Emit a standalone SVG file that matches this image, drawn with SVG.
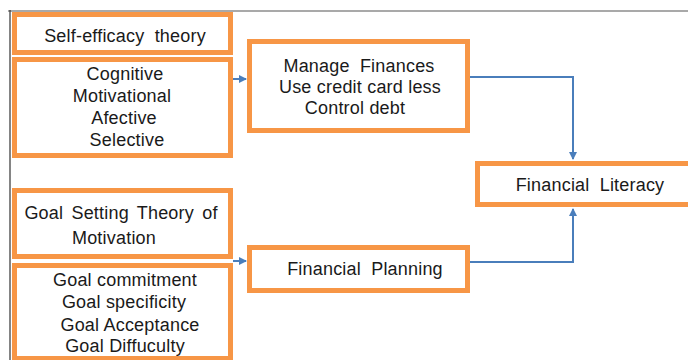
<svg xmlns="http://www.w3.org/2000/svg" width="688" height="360" viewBox="0 0 688 360">
<defs>
<style>
.box{fill:#fff;stroke:#F79646;stroke-width:5}
.t{font-family:"Liberation Sans",Arial,sans-serif;font-size:18px;fill:#1a1a1a;text-anchor:middle;letter-spacing:0.2px}
.w{word-spacing:5px}
.c{fill:none;stroke:#4A7EBB;stroke-width:2}
</style>
<marker id="ah" markerWidth="8" markerHeight="8" refX="7" refY="4" orient="auto" markerUnits="userSpaceOnUse">
<path d="M0,0 L8,4 L0,8 z" fill="#4A7EBB"/>
</marker>
</defs>
<rect width="688" height="360" fill="#fff"/>
<g id="frame">
<line x1="8" y1="11" x2="688" y2="11" stroke="#8c8c8c" stroke-width="1.5"/>
<line x1="10" y1="10" x2="10" y2="360" stroke="#333" stroke-width="1.2"/>
</g>
<g id="connectors">
<line class="c" x1="233" y1="79" x2="246" y2="79" marker-end="url(#ah)"/>
<line class="c" x1="233" y1="261" x2="246" y2="261" marker-end="url(#ah)"/>
<path class="c" d="M470,77 H573 V159" marker-end="url(#ah)"/>
<path class="c" d="M470,262 H573 V209" marker-end="url(#ah)"/>
</g>
<g id="self-efficacy">
<rect class="box" x="14.5" y="14.5" width="216" height="38"/>
<text class="t w" x="125" y="42">Self-efficacy theory</text>
</g>
<g id="self-efficacy-items">
<rect class="box" x="14.5" y="59.5" width="216" height="96"/>
<text class="t" x="125" y="80">Cognitive</text>
<text class="t" x="122" y="102">Motivational</text>
<text class="t" x="124" y="124">Afective</text>
<text class="t" x="127" y="146">Selective</text>
</g>
<g id="manage-finances">
<rect class="box" x="249.5" y="41.5" width="218" height="89"/>
<text class="t w" x="359" y="72">Manage Finances</text>
<text class="t" x="360" y="93">Use credit card less</text>
<text class="t" x="355" y="114">Control debt</text>
</g>
<g id="financial-literacy">
<rect class="box" x="477.5" y="163.5" width="220" height="41"/>
<text class="t w" x="590" y="191">Financial Literacy</text>
</g>
<g id="goal-setting">
<rect class="box" x="14.5" y="190.5" width="216" height="66"/>
<text class="t" x="121" y="219" style="word-spacing:3px">Goal Setting Theory of</text>
<text class="t" x="114" y="244">Motivation</text>
</g>
<g id="goal-items">
<rect class="box" x="14.5" y="265.5" width="216" height="93"/>
<text class="t" x="125" y="286">Goal commitment</text>
<text class="t" x="124" y="308">Goal specificity</text>
<text class="t" x="130" y="331">Goal Acceptance</text>
<text class="t" x="125" y="352">Goal Diffuculty</text>
</g>
<g id="financial-planning">
<rect class="box" x="249.5" y="247.5" width="218" height="43"/>
<text class="t w" x="365" y="275">Financial Planning</text>
</g>
</svg>
